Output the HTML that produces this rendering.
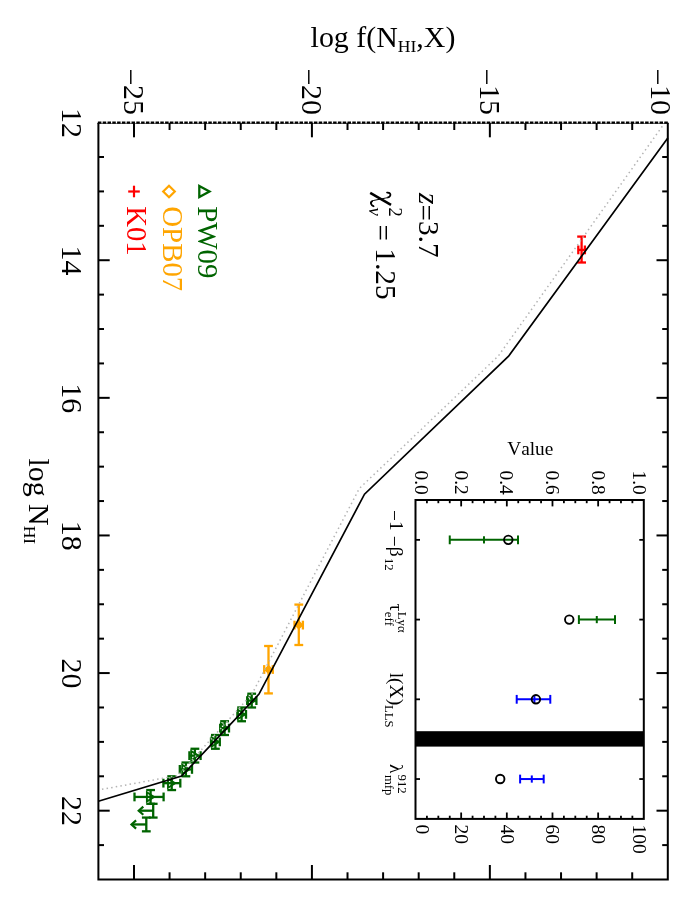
<!DOCTYPE html>
<html><head><meta charset="utf-8"><title>f(N,X)</title>
<style>html,body{margin:0;padding:0;background:#fff;}svg{display:block;will-change:transform;}text{font-family:"Liberation Serif",serif;font-kerning:none;}</style></head><body>
<svg width="692" height="911" viewBox="0 0 692 911">
<rect x="0" y="0" width="692" height="911" fill="#fff"/>
<line x1="581.60" y1="236.60" x2="581.60" y2="262.50" stroke="#ff0000" stroke-width="2.3" />
<line x1="577.20" y1="236.60" x2="586.00" y2="236.60" stroke="#ff0000" stroke-width="2.3" />
<line x1="577.20" y1="262.50" x2="586.00" y2="262.50" stroke="#ff0000" stroke-width="2.3" />
<line x1="578.30" y1="249.90" x2="584.90" y2="249.90" stroke="#ff0000" stroke-width="2.3" />
<line x1="578.30" y1="245.50" x2="578.30" y2="254.30" stroke="#ff0000" stroke-width="2.3" />
<line x1="584.90" y1="245.50" x2="584.90" y2="254.30" stroke="#ff0000" stroke-width="2.3" />
<line x1="298.80" y1="604.60" x2="298.80" y2="645.00" stroke="#ffa500" stroke-width="2.3" />
<line x1="294.40" y1="604.60" x2="303.20" y2="604.60" stroke="#ffa500" stroke-width="2.3" />
<line x1="294.40" y1="645.00" x2="303.20" y2="645.00" stroke="#ffa500" stroke-width="2.3" />
<line x1="294.50" y1="625.10" x2="302.90" y2="625.10" stroke="#ffa500" stroke-width="2.3" />
<line x1="294.50" y1="620.70" x2="294.50" y2="629.50" stroke="#ffa500" stroke-width="2.3" />
<line x1="302.90" y1="620.70" x2="302.90" y2="629.50" stroke="#ffa500" stroke-width="2.3" />
<line x1="268.50" y1="646.00" x2="268.50" y2="693.40" stroke="#ffa500" stroke-width="2.3" />
<line x1="264.10" y1="646.00" x2="272.90" y2="646.00" stroke="#ffa500" stroke-width="2.3" />
<line x1="264.10" y1="693.40" x2="272.90" y2="693.40" stroke="#ffa500" stroke-width="2.3" />
<line x1="264.20" y1="669.50" x2="272.80" y2="669.50" stroke="#ffa500" stroke-width="2.3" />
<line x1="264.20" y1="665.10" x2="264.20" y2="673.90" stroke="#ffa500" stroke-width="2.3" />
<line x1="272.80" y1="665.10" x2="272.80" y2="673.90" stroke="#ffa500" stroke-width="2.3" />
<path d="M295.2,625.1 L298.8,621.5 L302.4,625.1 L298.8,628.7Z" fill="#ffa500" stroke="#ffa500" stroke-width="1.6"/>
<path d="M264.9,669.5 L268.5,665.9 L272.1,669.5 L268.5,673.1Z" fill="#ffa500" stroke="#ffa500" stroke-width="1.6"/>
<line x1="251.70" y1="693.72" x2="251.70" y2="707.48" stroke="#006400" stroke-width="2.3" />
<line x1="247.30" y1="693.72" x2="256.10" y2="693.72" stroke="#006400" stroke-width="2.3" />
<line x1="247.30" y1="707.48" x2="256.10" y2="707.48" stroke="#006400" stroke-width="2.3" />
<line x1="247.20" y1="700.60" x2="256.40" y2="700.60" stroke="#006400" stroke-width="2.3" />
<line x1="247.20" y1="696.20" x2="247.20" y2="705.00" stroke="#006400" stroke-width="2.3" />
<line x1="256.40" y1="696.20" x2="256.40" y2="705.00" stroke="#006400" stroke-width="2.3" />
<path d="M248.0,696.0 L255.1,700.6 L248.0,705.2Z" fill="none" stroke="#006400" stroke-width="1.9" stroke-linejoin="miter"/>
<line x1="241.60" y1="707.48" x2="241.60" y2="721.24" stroke="#006400" stroke-width="2.3" />
<line x1="237.20" y1="707.48" x2="246.00" y2="707.48" stroke="#006400" stroke-width="2.3" />
<line x1="237.20" y1="721.24" x2="246.00" y2="721.24" stroke="#006400" stroke-width="2.3" />
<line x1="237.40" y1="714.36" x2="246.00" y2="714.36" stroke="#006400" stroke-width="2.3" />
<line x1="237.40" y1="709.96" x2="237.40" y2="718.76" stroke="#006400" stroke-width="2.3" />
<line x1="246.00" y1="709.96" x2="246.00" y2="718.76" stroke="#006400" stroke-width="2.3" />
<path d="M237.9,709.8 L245.0,714.4 L237.9,719.0Z" fill="none" stroke="#006400" stroke-width="1.9" stroke-linejoin="miter"/>
<line x1="224.60" y1="721.24" x2="224.60" y2="735.00" stroke="#006400" stroke-width="2.3" />
<line x1="220.20" y1="721.24" x2="229.00" y2="721.24" stroke="#006400" stroke-width="2.3" />
<line x1="220.20" y1="735.00" x2="229.00" y2="735.00" stroke="#006400" stroke-width="2.3" />
<line x1="220.20" y1="728.12" x2="229.00" y2="728.12" stroke="#006400" stroke-width="2.3" />
<line x1="220.20" y1="723.72" x2="220.20" y2="732.52" stroke="#006400" stroke-width="2.3" />
<line x1="229.00" y1="723.72" x2="229.00" y2="732.52" stroke="#006400" stroke-width="2.3" />
<path d="M220.9,723.5 L228.0,728.1 L220.9,732.7Z" fill="none" stroke="#006400" stroke-width="1.9" stroke-linejoin="miter"/>
<line x1="215.40" y1="735.00" x2="215.40" y2="748.76" stroke="#006400" stroke-width="2.3" />
<line x1="211.00" y1="735.00" x2="219.80" y2="735.00" stroke="#006400" stroke-width="2.3" />
<line x1="211.00" y1="748.76" x2="219.80" y2="748.76" stroke="#006400" stroke-width="2.3" />
<line x1="211.00" y1="741.88" x2="219.80" y2="741.88" stroke="#006400" stroke-width="2.3" />
<line x1="211.00" y1="737.48" x2="211.00" y2="746.28" stroke="#006400" stroke-width="2.3" />
<line x1="219.80" y1="737.48" x2="219.80" y2="746.28" stroke="#006400" stroke-width="2.3" />
<path d="M211.7,737.3 L218.8,741.9 L211.7,746.5Z" fill="none" stroke="#006400" stroke-width="1.9" stroke-linejoin="miter"/>
<line x1="194.90" y1="748.76" x2="194.90" y2="762.52" stroke="#006400" stroke-width="2.3" />
<line x1="190.50" y1="748.76" x2="199.30" y2="748.76" stroke="#006400" stroke-width="2.3" />
<line x1="190.50" y1="762.52" x2="199.30" y2="762.52" stroke="#006400" stroke-width="2.3" />
<line x1="189.40" y1="755.64" x2="200.60" y2="755.64" stroke="#006400" stroke-width="2.3" />
<line x1="189.40" y1="751.24" x2="189.40" y2="760.04" stroke="#006400" stroke-width="2.3" />
<line x1="200.60" y1="751.24" x2="200.60" y2="760.04" stroke="#006400" stroke-width="2.3" />
<path d="M191.2,751.0 L198.3,755.6 L191.2,760.2Z" fill="none" stroke="#006400" stroke-width="1.9" stroke-linejoin="miter"/>
<line x1="185.90" y1="762.52" x2="185.90" y2="776.29" stroke="#006400" stroke-width="2.3" />
<line x1="181.50" y1="762.52" x2="190.30" y2="762.52" stroke="#006400" stroke-width="2.3" />
<line x1="181.50" y1="776.29" x2="190.30" y2="776.29" stroke="#006400" stroke-width="2.3" />
<line x1="179.80" y1="769.41" x2="192.00" y2="769.41" stroke="#006400" stroke-width="2.3" />
<line x1="179.80" y1="765.01" x2="179.80" y2="773.81" stroke="#006400" stroke-width="2.3" />
<line x1="192.00" y1="765.01" x2="192.00" y2="773.81" stroke="#006400" stroke-width="2.3" />
<path d="M182.2,764.8 L189.3,769.4 L182.2,774.0Z" fill="none" stroke="#006400" stroke-width="1.9" stroke-linejoin="miter"/>
<line x1="171.70" y1="776.29" x2="171.70" y2="790.05" stroke="#006400" stroke-width="2.3" />
<line x1="167.30" y1="776.29" x2="176.10" y2="776.29" stroke="#006400" stroke-width="2.3" />
<line x1="167.30" y1="790.05" x2="176.10" y2="790.05" stroke="#006400" stroke-width="2.3" />
<line x1="163.40" y1="783.17" x2="180.30" y2="783.17" stroke="#006400" stroke-width="2.3" />
<line x1="163.40" y1="778.77" x2="163.40" y2="787.57" stroke="#006400" stroke-width="2.3" />
<line x1="180.30" y1="778.77" x2="180.30" y2="787.57" stroke="#006400" stroke-width="2.3" />
<path d="M168.0,778.6 L175.1,783.2 L168.0,787.8Z" fill="none" stroke="#006400" stroke-width="1.9" stroke-linejoin="miter"/>
<line x1="150.60" y1="790.05" x2="150.60" y2="803.81" stroke="#006400" stroke-width="2.3" />
<line x1="146.20" y1="790.05" x2="155.00" y2="790.05" stroke="#006400" stroke-width="2.3" />
<line x1="146.20" y1="803.81" x2="155.00" y2="803.81" stroke="#006400" stroke-width="2.3" />
<line x1="134.50" y1="796.93" x2="163.60" y2="796.93" stroke="#006400" stroke-width="2.3" />
<line x1="134.50" y1="792.53" x2="134.50" y2="801.33" stroke="#006400" stroke-width="2.3" />
<line x1="163.60" y1="792.53" x2="163.60" y2="801.33" stroke="#006400" stroke-width="2.3" />
<path d="M146.9,792.3 L154.0,796.9 L146.9,801.5Z" fill="none" stroke="#006400" stroke-width="1.9" stroke-linejoin="miter"/>
<line x1="153.20" y1="803.81" x2="153.20" y2="817.57" stroke="#006400" stroke-width="2.3" />
<line x1="148.80" y1="803.81" x2="157.60" y2="803.81" stroke="#006400" stroke-width="2.3" />
<line x1="148.80" y1="817.57" x2="157.60" y2="817.57" stroke="#006400" stroke-width="2.3" />
<line x1="153.20" y1="810.69" x2="139.70" y2="810.69" stroke="#006400" stroke-width="2.3" />
<polyline fill="none" stroke="#006400" stroke-width="2.2" stroke-linejoin="miter" points="143.3,806.6 138.7,810.7 143.3,814.8"/>
<line x1="146.30" y1="817.57" x2="146.30" y2="831.33" stroke="#006400" stroke-width="2.3" />
<line x1="141.90" y1="817.57" x2="150.70" y2="817.57" stroke="#006400" stroke-width="2.3" />
<line x1="141.90" y1="831.33" x2="150.70" y2="831.33" stroke="#006400" stroke-width="2.3" />
<line x1="146.30" y1="824.45" x2="132.50" y2="824.45" stroke="#006400" stroke-width="2.3" />
<polyline fill="none" stroke="#006400" stroke-width="2.2" stroke-linejoin="miter" points="136.1,820.4 131.5,824.5 136.1,828.6"/>
<polyline fill="none" stroke="#b4b4b4" stroke-width="1.5" stroke-dasharray="1.5 3.17" points="665.0,122.5 498.3,356.0 359.3,488.5 252.0,694.0 178.0,775.5 98.4,790.0"/>
<polyline fill="none" stroke="#000" stroke-width="1.7" stroke-linejoin="miter" points="667.8,138.1 508.6,356.2 364.5,494.2 259.0,694.1 181.6,776.0 98.4,801.3"/>
<line x1="97.90" y1="122.70" x2="667.80" y2="122.70" stroke="#000" stroke-width="2.3" stroke-dasharray="3.5 1.3"/>
<line x1="97.40" y1="123.50" x2="668.80" y2="123.50" stroke="#000" stroke-width="1.0" stroke-opacity="0.55"/>
<path d="M98.40,122.80 V879.50 H667.80 V122.80" fill="none" stroke="#000" stroke-width="2" stroke-linejoin="miter"/>
<line x1="133.99" y1="122.80" x2="133.99" y2="137.30" stroke="#000" stroke-width="2" />
<line x1="133.99" y1="879.50" x2="133.99" y2="865.00" stroke="#000" stroke-width="2" />
<line x1="169.57" y1="122.80" x2="169.57" y2="130.00" stroke="#000" stroke-width="2" />
<line x1="169.57" y1="879.50" x2="169.57" y2="872.30" stroke="#000" stroke-width="2" />
<line x1="205.16" y1="122.80" x2="205.16" y2="130.00" stroke="#000" stroke-width="2" />
<line x1="205.16" y1="879.50" x2="205.16" y2="872.30" stroke="#000" stroke-width="2" />
<line x1="240.75" y1="122.80" x2="240.75" y2="130.00" stroke="#000" stroke-width="2" />
<line x1="240.75" y1="879.50" x2="240.75" y2="872.30" stroke="#000" stroke-width="2" />
<line x1="276.34" y1="122.80" x2="276.34" y2="130.00" stroke="#000" stroke-width="2" />
<line x1="276.34" y1="879.50" x2="276.34" y2="872.30" stroke="#000" stroke-width="2" />
<line x1="311.92" y1="122.80" x2="311.92" y2="137.30" stroke="#000" stroke-width="2" />
<line x1="311.92" y1="879.50" x2="311.92" y2="865.00" stroke="#000" stroke-width="2" />
<line x1="347.51" y1="122.80" x2="347.51" y2="130.00" stroke="#000" stroke-width="2" />
<line x1="347.51" y1="879.50" x2="347.51" y2="872.30" stroke="#000" stroke-width="2" />
<line x1="383.10" y1="122.80" x2="383.10" y2="130.00" stroke="#000" stroke-width="2" />
<line x1="383.10" y1="879.50" x2="383.10" y2="872.30" stroke="#000" stroke-width="2" />
<line x1="418.69" y1="122.80" x2="418.69" y2="130.00" stroke="#000" stroke-width="2" />
<line x1="418.69" y1="879.50" x2="418.69" y2="872.30" stroke="#000" stroke-width="2" />
<line x1="454.27" y1="122.80" x2="454.27" y2="130.00" stroke="#000" stroke-width="2" />
<line x1="454.27" y1="879.50" x2="454.27" y2="872.30" stroke="#000" stroke-width="2" />
<line x1="489.86" y1="122.80" x2="489.86" y2="137.30" stroke="#000" stroke-width="2" />
<line x1="489.86" y1="879.50" x2="489.86" y2="865.00" stroke="#000" stroke-width="2" />
<line x1="525.45" y1="122.80" x2="525.45" y2="130.00" stroke="#000" stroke-width="2" />
<line x1="525.45" y1="879.50" x2="525.45" y2="872.30" stroke="#000" stroke-width="2" />
<line x1="561.04" y1="122.80" x2="561.04" y2="130.00" stroke="#000" stroke-width="2" />
<line x1="561.04" y1="879.50" x2="561.04" y2="872.30" stroke="#000" stroke-width="2" />
<line x1="596.62" y1="122.80" x2="596.62" y2="130.00" stroke="#000" stroke-width="2" />
<line x1="596.62" y1="879.50" x2="596.62" y2="872.30" stroke="#000" stroke-width="2" />
<line x1="632.21" y1="122.80" x2="632.21" y2="130.00" stroke="#000" stroke-width="2" />
<line x1="632.21" y1="879.50" x2="632.21" y2="872.30" stroke="#000" stroke-width="2" />
<line x1="98.40" y1="157.00" x2="104.00" y2="157.00" stroke="#000" stroke-width="2" />
<line x1="667.80" y1="157.00" x2="662.20" y2="157.00" stroke="#000" stroke-width="2" />
<line x1="98.40" y1="191.41" x2="104.00" y2="191.41" stroke="#000" stroke-width="2" />
<line x1="667.80" y1="191.41" x2="662.20" y2="191.41" stroke="#000" stroke-width="2" />
<line x1="98.40" y1="225.81" x2="104.00" y2="225.81" stroke="#000" stroke-width="2" />
<line x1="667.80" y1="225.81" x2="662.20" y2="225.81" stroke="#000" stroke-width="2" />
<line x1="98.40" y1="260.22" x2="109.70" y2="260.22" stroke="#000" stroke-width="2" />
<line x1="667.80" y1="260.22" x2="656.50" y2="260.22" stroke="#000" stroke-width="2" />
<line x1="98.40" y1="294.62" x2="104.00" y2="294.62" stroke="#000" stroke-width="2" />
<line x1="667.80" y1="294.62" x2="662.20" y2="294.62" stroke="#000" stroke-width="2" />
<line x1="98.40" y1="329.03" x2="104.00" y2="329.03" stroke="#000" stroke-width="2" />
<line x1="667.80" y1="329.03" x2="662.20" y2="329.03" stroke="#000" stroke-width="2" />
<line x1="98.40" y1="363.43" x2="104.00" y2="363.43" stroke="#000" stroke-width="2" />
<line x1="667.80" y1="363.43" x2="662.20" y2="363.43" stroke="#000" stroke-width="2" />
<line x1="98.40" y1="397.84" x2="109.70" y2="397.84" stroke="#000" stroke-width="2" />
<line x1="667.80" y1="397.84" x2="656.50" y2="397.84" stroke="#000" stroke-width="2" />
<line x1="98.40" y1="432.24" x2="104.00" y2="432.24" stroke="#000" stroke-width="2" />
<line x1="667.80" y1="432.24" x2="662.20" y2="432.24" stroke="#000" stroke-width="2" />
<line x1="98.40" y1="466.65" x2="104.00" y2="466.65" stroke="#000" stroke-width="2" />
<line x1="667.80" y1="466.65" x2="662.20" y2="466.65" stroke="#000" stroke-width="2" />
<line x1="98.40" y1="501.05" x2="104.00" y2="501.05" stroke="#000" stroke-width="2" />
<line x1="667.80" y1="501.05" x2="662.20" y2="501.05" stroke="#000" stroke-width="2" />
<line x1="98.40" y1="535.45" x2="109.70" y2="535.45" stroke="#000" stroke-width="2" />
<line x1="667.80" y1="535.45" x2="656.50" y2="535.45" stroke="#000" stroke-width="2" />
<line x1="98.40" y1="569.86" x2="104.00" y2="569.86" stroke="#000" stroke-width="2" />
<line x1="667.80" y1="569.86" x2="662.20" y2="569.86" stroke="#000" stroke-width="2" />
<line x1="98.40" y1="604.26" x2="104.00" y2="604.26" stroke="#000" stroke-width="2" />
<line x1="667.80" y1="604.26" x2="662.20" y2="604.26" stroke="#000" stroke-width="2" />
<line x1="98.40" y1="638.67" x2="104.00" y2="638.67" stroke="#000" stroke-width="2" />
<line x1="667.80" y1="638.67" x2="662.20" y2="638.67" stroke="#000" stroke-width="2" />
<line x1="98.40" y1="673.07" x2="109.70" y2="673.07" stroke="#000" stroke-width="2" />
<line x1="667.80" y1="673.07" x2="656.50" y2="673.07" stroke="#000" stroke-width="2" />
<line x1="98.40" y1="707.48" x2="104.00" y2="707.48" stroke="#000" stroke-width="2" />
<line x1="667.80" y1="707.48" x2="662.20" y2="707.48" stroke="#000" stroke-width="2" />
<line x1="98.40" y1="741.88" x2="104.00" y2="741.88" stroke="#000" stroke-width="2" />
<line x1="667.80" y1="741.88" x2="662.20" y2="741.88" stroke="#000" stroke-width="2" />
<line x1="98.40" y1="776.29" x2="104.00" y2="776.29" stroke="#000" stroke-width="2" />
<line x1="667.80" y1="776.29" x2="662.20" y2="776.29" stroke="#000" stroke-width="2" />
<line x1="98.40" y1="810.69" x2="109.70" y2="810.69" stroke="#000" stroke-width="2" />
<line x1="667.80" y1="810.69" x2="656.50" y2="810.69" stroke="#000" stroke-width="2" />
<line x1="98.40" y1="845.10" x2="104.00" y2="845.10" stroke="#000" stroke-width="2" />
<line x1="667.80" y1="845.10" x2="662.20" y2="845.10" stroke="#000" stroke-width="2" />
<text transform="translate(124.49,115.00) rotate(90)" font-size="30" text-anchor="end" fill="#000" ><tspan dy="3.1">−</tspan><tspan dy="-3.1" dx="-0.7">25</tspan></text>
<text transform="translate(302.42,115.00) rotate(90)" font-size="30" text-anchor="end" fill="#000" ><tspan dy="3.1">−</tspan><tspan dy="-3.1" dx="-0.7">20</tspan></text>
<text transform="translate(480.36,115.00) rotate(90)" font-size="30" text-anchor="end" fill="#000" ><tspan dy="3.1">−</tspan><tspan dy="-3.1" dx="-0.7">15</tspan></text>
<text transform="translate(651.00,115.00) rotate(90)" font-size="30" text-anchor="end" fill="#000" ><tspan dy="3.1">−</tspan><tspan dy="-3.1" dx="-0.7">10</tspan></text>
<text transform="translate(61.70,123.00) rotate(90)" font-size="30" text-anchor="middle" fill="#000" >12</text>
<text transform="translate(61.70,260.62) rotate(90)" font-size="30" text-anchor="middle" fill="#000" >14</text>
<text transform="translate(61.70,398.24) rotate(90)" font-size="30" text-anchor="middle" fill="#000" >16</text>
<text transform="translate(61.70,535.85) rotate(90)" font-size="30" text-anchor="middle" fill="#000" >18</text>
<text transform="translate(61.70,673.47) rotate(90)" font-size="30" text-anchor="middle" fill="#000" >20</text>
<text transform="translate(61.70,811.09) rotate(90)" font-size="30" text-anchor="middle" fill="#000" >22</text>
<text x="383" y="47.2" font-size="29.9" text-anchor="middle">log f(N<tspan font-size="17.6" dy="4.9">HI</tspan><tspan dy="-4.9">,X)</tspan></text>
<text transform="translate(28.80,501.30) rotate(90)" font-size="29.9" text-anchor="middle" fill="#000" >log N<tspan font-size="17.6" dy="4.9">HI</tspan></text>
<text transform="translate(418.50,193.00) rotate(90)" font-size="29.3" text-anchor="start" fill="#000" ><tspan font-style="italic">z</tspan><tspan dy="2.7">=</tspan><tspan dy="-2.7">3.7</tspan></text>
<path d="M370.2,192.9 L391.0,204.8" fill="none" stroke="#000" stroke-width="2.5"/>
<path d="M386.2,192.7 C389.2,192.1 391.0,193.6 390.4,195.5 C389.9,197.2 388.0,197.6 385.8,198.0 L373.9,200.4 C371.9,200.9 370.5,201.8 370.9,203.5 C371.3,205.1 372.4,206.2 374.4,206.4" fill="none" stroke="#000" stroke-width="1.0"/>
<path d="M386.8,192.7 C389.2,192.2 390.9,193.6 390.3,195.5 C389.9,196.7 388.8,197.3 387.4,197.6" fill="none" stroke="#000" stroke-width="1.8"/>
<path d="M372.8,200.8 C371.5,201.3 370.6,202.1 371.0,203.5 C371.4,205.0 372.4,206.0 374.0,206.3" fill="none" stroke="#000" stroke-width="1.8"/>
<text transform="translate(388.60,207.40) rotate(90)" font-size="18.5" text-anchor="start" fill="#000" >2</text>
<text transform="translate(369.00,207.40) rotate(90)" font-size="18.8" text-anchor="start" fill="#000" font-style="italic">ν</text>
<text transform="translate(375.60,224.40) rotate(90)" font-size="29.3" text-anchor="start" fill="#000" ><tspan dy="2.7">=</tspan><tspan dy="-2.7"> 1.25</tspan></text>
<path d="M199.3,185.9 L209.5,191.5 L199.3,197.1 Z" fill="none" stroke="#006400" stroke-width="2.3"/>
<text transform="translate(198.40,206.20) rotate(90)" font-size="28.9" text-anchor="start" fill="#006400" >PW09</text>
<path d="M163.2,191.5 L169,185.7 L174.8,191.5 L169,197.3 Z" fill="none" stroke="#ffa500" stroke-width="2.2"/>
<text transform="translate(162.60,206.20) rotate(90)" font-size="28.9" text-anchor="start" fill="#ffa500" >OPB07</text>
<line x1="128.20" y1="191.50" x2="139.80" y2="191.50" stroke="#ff0000" stroke-width="2.2" />
<line x1="134.00" y1="185.70" x2="134.00" y2="197.30" stroke="#ff0000" stroke-width="2.2" />
<text transform="translate(127.40,206.20) rotate(90)" font-size="28.7" text-anchor="start" fill="#ff0000" >K01</text>
<rect x="415.5" y="500.0" width="228.30" height="318.90" fill="#fff" stroke="none"/>
<rect x="415.5" y="731.2" width="228.30" height="15.4" fill="#000"/>
<line x1="449.75" y1="539.86" x2="518.01" y2="539.86" stroke="#006400" stroke-width="2" />
<line x1="449.75" y1="535.46" x2="449.75" y2="544.26" stroke="#006400" stroke-width="2" />
<line x1="483.97" y1="536.26" x2="483.97" y2="543.46" stroke="#006400" stroke-width="2" />
<line x1="518.01" y1="535.46" x2="518.01" y2="544.26" stroke="#006400" stroke-width="2" />
<circle cx="508.30" cy="539.86" r="4.25" fill="none" stroke="#000" stroke-width="1.9"/>
<line x1="578.89" y1="619.59" x2="615.01" y2="619.59" stroke="#006400" stroke-width="2" />
<line x1="578.89" y1="615.19" x2="578.89" y2="623.99" stroke="#006400" stroke-width="2" />
<line x1="596.79" y1="615.99" x2="596.79" y2="623.19" stroke="#006400" stroke-width="2" />
<line x1="615.01" y1="615.19" x2="615.01" y2="623.99" stroke="#006400" stroke-width="2" />
<circle cx="569.26" cy="619.59" r="4.25" fill="none" stroke="#000" stroke-width="1.9"/>
<line x1="516.71" y1="699.31" x2="550.29" y2="699.31" stroke="#0000ff" stroke-width="2" />
<line x1="516.71" y1="694.91" x2="516.71" y2="703.71" stroke="#0000ff" stroke-width="2" />
<line x1="534.40" y1="695.71" x2="534.40" y2="702.91" stroke="#0000ff" stroke-width="2" />
<line x1="550.29" y1="694.91" x2="550.29" y2="703.71" stroke="#0000ff" stroke-width="2" />
<circle cx="535.91" cy="699.31" r="4.25" fill="none" stroke="#000" stroke-width="1.9"/>
<line x1="520.11" y1="779.04" x2="543.69" y2="779.04" stroke="#0000ff" stroke-width="2" />
<line x1="520.11" y1="774.64" x2="520.11" y2="783.44" stroke="#0000ff" stroke-width="2" />
<line x1="531.80" y1="775.44" x2="531.80" y2="782.64" stroke="#0000ff" stroke-width="2" />
<line x1="543.69" y1="774.64" x2="543.69" y2="783.44" stroke="#0000ff" stroke-width="2" />
<circle cx="500.20" cy="779.04" r="4.25" fill="none" stroke="#000" stroke-width="1.9"/>
<rect x="415.5" y="500.0" width="228.30" height="318.90" fill="none" stroke="#000" stroke-width="2"/>
<line x1="426.92" y1="500.00" x2="426.92" y2="503.20" stroke="#000" stroke-width="1.8" />
<line x1="426.92" y1="818.90" x2="426.92" y2="815.70" stroke="#000" stroke-width="1.8" />
<line x1="438.33" y1="500.00" x2="438.33" y2="503.20" stroke="#000" stroke-width="1.8" />
<line x1="438.33" y1="818.90" x2="438.33" y2="815.70" stroke="#000" stroke-width="1.8" />
<line x1="449.75" y1="500.00" x2="449.75" y2="503.20" stroke="#000" stroke-width="1.8" />
<line x1="449.75" y1="818.90" x2="449.75" y2="815.70" stroke="#000" stroke-width="1.8" />
<line x1="461.16" y1="500.00" x2="461.16" y2="506.40" stroke="#000" stroke-width="1.8" />
<line x1="461.16" y1="818.90" x2="461.16" y2="812.50" stroke="#000" stroke-width="1.8" />
<line x1="472.57" y1="500.00" x2="472.57" y2="503.20" stroke="#000" stroke-width="1.8" />
<line x1="472.57" y1="818.90" x2="472.57" y2="815.70" stroke="#000" stroke-width="1.8" />
<line x1="483.99" y1="500.00" x2="483.99" y2="503.20" stroke="#000" stroke-width="1.8" />
<line x1="483.99" y1="818.90" x2="483.99" y2="815.70" stroke="#000" stroke-width="1.8" />
<line x1="495.40" y1="500.00" x2="495.40" y2="503.20" stroke="#000" stroke-width="1.8" />
<line x1="495.40" y1="818.90" x2="495.40" y2="815.70" stroke="#000" stroke-width="1.8" />
<line x1="506.82" y1="500.00" x2="506.82" y2="506.40" stroke="#000" stroke-width="1.8" />
<line x1="506.82" y1="818.90" x2="506.82" y2="812.50" stroke="#000" stroke-width="1.8" />
<line x1="518.24" y1="500.00" x2="518.24" y2="503.20" stroke="#000" stroke-width="1.8" />
<line x1="518.24" y1="818.90" x2="518.24" y2="815.70" stroke="#000" stroke-width="1.8" />
<line x1="529.65" y1="500.00" x2="529.65" y2="503.20" stroke="#000" stroke-width="1.8" />
<line x1="529.65" y1="818.90" x2="529.65" y2="815.70" stroke="#000" stroke-width="1.8" />
<line x1="541.06" y1="500.00" x2="541.06" y2="503.20" stroke="#000" stroke-width="1.8" />
<line x1="541.06" y1="818.90" x2="541.06" y2="815.70" stroke="#000" stroke-width="1.8" />
<line x1="552.48" y1="500.00" x2="552.48" y2="506.40" stroke="#000" stroke-width="1.8" />
<line x1="552.48" y1="818.90" x2="552.48" y2="812.50" stroke="#000" stroke-width="1.8" />
<line x1="563.89" y1="500.00" x2="563.89" y2="503.20" stroke="#000" stroke-width="1.8" />
<line x1="563.89" y1="818.90" x2="563.89" y2="815.70" stroke="#000" stroke-width="1.8" />
<line x1="575.31" y1="500.00" x2="575.31" y2="503.20" stroke="#000" stroke-width="1.8" />
<line x1="575.31" y1="818.90" x2="575.31" y2="815.70" stroke="#000" stroke-width="1.8" />
<line x1="586.72" y1="500.00" x2="586.72" y2="503.20" stroke="#000" stroke-width="1.8" />
<line x1="586.72" y1="818.90" x2="586.72" y2="815.70" stroke="#000" stroke-width="1.8" />
<line x1="598.14" y1="500.00" x2="598.14" y2="506.40" stroke="#000" stroke-width="1.8" />
<line x1="598.14" y1="818.90" x2="598.14" y2="812.50" stroke="#000" stroke-width="1.8" />
<line x1="609.55" y1="500.00" x2="609.55" y2="503.20" stroke="#000" stroke-width="1.8" />
<line x1="609.55" y1="818.90" x2="609.55" y2="815.70" stroke="#000" stroke-width="1.8" />
<line x1="620.97" y1="500.00" x2="620.97" y2="503.20" stroke="#000" stroke-width="1.8" />
<line x1="620.97" y1="818.90" x2="620.97" y2="815.70" stroke="#000" stroke-width="1.8" />
<line x1="632.38" y1="500.00" x2="632.38" y2="503.20" stroke="#000" stroke-width="1.8" />
<line x1="632.38" y1="818.90" x2="632.38" y2="815.70" stroke="#000" stroke-width="1.8" />
<line x1="415.50" y1="539.86" x2="420.00" y2="539.86" stroke="#000" stroke-width="1.8" />
<line x1="643.80" y1="539.86" x2="639.30" y2="539.86" stroke="#000" stroke-width="1.8" />
<line x1="415.50" y1="619.59" x2="420.00" y2="619.59" stroke="#000" stroke-width="1.8" />
<line x1="643.80" y1="619.59" x2="639.30" y2="619.59" stroke="#000" stroke-width="1.8" />
<line x1="415.50" y1="699.31" x2="420.00" y2="699.31" stroke="#000" stroke-width="1.8" />
<line x1="643.80" y1="699.31" x2="639.30" y2="699.31" stroke="#000" stroke-width="1.8" />
<line x1="415.50" y1="779.04" x2="420.00" y2="779.04" stroke="#000" stroke-width="1.8" />
<line x1="643.80" y1="779.04" x2="639.30" y2="779.04" stroke="#000" stroke-width="1.8" />
<text transform="translate(415.30,494.80) rotate(90)" font-size="19.4" text-anchor="end" fill="#000" >0.0</text>
<text transform="translate(415.60,824.40) rotate(90)" font-size="19.6" text-anchor="start" fill="#000" >0</text>
<text transform="translate(454.76,494.80) rotate(90)" font-size="19.4" text-anchor="end" fill="#000" >0.2</text>
<text transform="translate(455.06,824.40) rotate(90)" font-size="19.6" text-anchor="start" fill="#000" >20</text>
<text transform="translate(500.42,494.80) rotate(90)" font-size="19.4" text-anchor="end" fill="#000" >0.4</text>
<text transform="translate(500.72,824.40) rotate(90)" font-size="19.6" text-anchor="start" fill="#000" >40</text>
<text transform="translate(546.08,494.80) rotate(90)" font-size="19.4" text-anchor="end" fill="#000" >0.6</text>
<text transform="translate(546.38,824.40) rotate(90)" font-size="19.6" text-anchor="start" fill="#000" >60</text>
<text transform="translate(591.74,494.80) rotate(90)" font-size="19.4" text-anchor="end" fill="#000" >0.8</text>
<text transform="translate(592.04,824.40) rotate(90)" font-size="19.6" text-anchor="start" fill="#000" >80</text>
<text transform="translate(632.80,494.80) rotate(90)" font-size="19.4" text-anchor="end" fill="#000" >1.0</text>
<text transform="translate(633.10,824.40) rotate(90)" font-size="19.6" text-anchor="start" fill="#000" >100</text>
<text x="530.3" y="455.2" font-size="19.3" text-anchor="middle">Value</text>
<text transform="translate(389.90,510.00) rotate(90)" font-size="19.5" text-anchor="start" fill="#000" ><tspan dy="1.6">−</tspan><tspan dy="-1.6">1 </tspan><tspan dy="1.6">−</tspan><tspan dy="-1.6">β</tspan></text>
<text transform="translate(385.30,558.00) rotate(90)" font-size="12.7" text-anchor="start" fill="#000" >12</text>
<text transform="translate(390.30,603.40) rotate(90)" font-size="19.5" text-anchor="start" fill="#000" >τ</text>
<text transform="translate(398.20,611.80) rotate(90)" font-size="12.7" text-anchor="start" fill="#000" >Lyα</text>
<text transform="translate(385.30,611.80) rotate(90)" font-size="12.7" text-anchor="start" fill="#000" >eff</text>
<text transform="translate(389.90,672.70) rotate(90)" font-size="19.5" text-anchor="start" fill="#000" >l(X)</text>
<text transform="translate(385.30,704.90) rotate(90)" font-size="12.7" text-anchor="start" fill="#000" >LLS</text>
<text transform="translate(389.90,764.00) rotate(90)" font-size="19.5" text-anchor="start" fill="#000" >λ</text>
<text transform="translate(398.20,774.60) rotate(90)" font-size="12.7" text-anchor="start" fill="#000" >912</text>
<text transform="translate(385.30,774.90) rotate(90)" font-size="12.7" text-anchor="start" fill="#000" >mfp</text>
</svg></body></html>
